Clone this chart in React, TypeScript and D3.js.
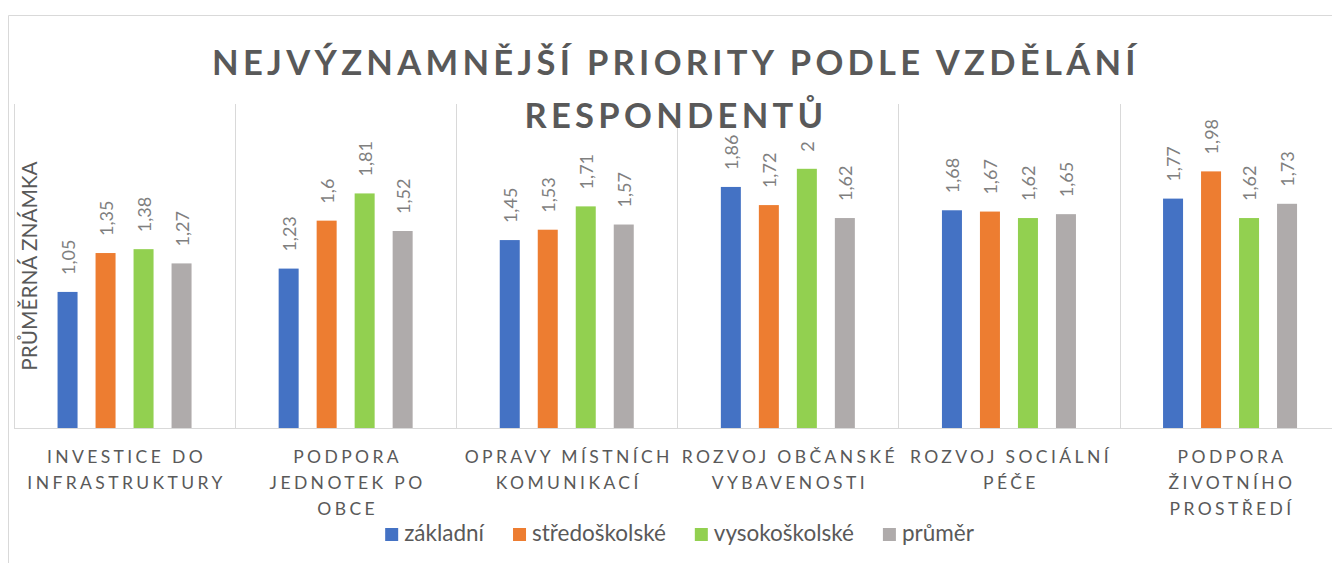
import React, { useRef, useEffect } from "react";
import * as d3 from "d3";

// category tick labels, already broken into lines as in the original
const categories = [
  ["INVESTICE DO", "INFRASTRUKTURY"],
  ["PODPORA", "JEDNOTEK PO", "OBCE"],
  ["OPRAVY MÍSTNÍCH", "KOMUNIKACÍ"],
  ["ROZVOJ OBČANSKÉ", "VYBAVENOSTI"],
  ["ROZVOJ SOCIÁLNÍ", "PÉČE"],
  ["PODPORA", "ŽIVOTNÍHO", "PROSTŘEDÍ"],
];

const seriesNames = ["základní", "středoškolské", "vysokoškolské", "průměr"];
const seriesColors = ["#4472C4", "#ED7D31", "#92D050", "#AFABAB"];

const zakladni = [1.05, 1.23, 1.45, 1.86, 1.68, 1.77];
const stredoskolske = [1.35, 1.6, 1.53, 1.72, 1.67, 1.98];
const vysokoskolske = [1.38, 1.81, 1.71, 2, 1.62, 1.62];
const prumer = [1.27, 1.52, 1.57, 1.62, 1.65, 1.73];

const titleLines = ["NEJVÝZNAMNĚJŠÍ PRIORITY PODLE VZDĚLÁNÍ", "RESPONDENTŮ"];
const yTitle = "PRŮMĚRNÁ ZNÁMKA";

const App = () => {
  const chartRef = useRef<HTMLDivElement>(null);

  useEffect(() => {
    const width = 1332;
    const height = 563;
    const font = "Lato, 'Open Sans', sans-serif";
    const series = [zakladni, stredoskolske, vysokoskolske, prumer];

    const root = d3.select(chartRef.current);
    root.selectAll("*").remove();

    const svg = root
      .append("svg")
      .attr("width", width)
      .attr("height", height)
      .style("position", "absolute")
      .style("left", 0)
      .style("top", 0)
      .style("font-family", font);

    svg.append("rect").attr("width", width).attr("height", height).attr("fill", "#fff");

    // chart border (continues past the photo edge)
    svg
      .append("path")
      .attr("d", `M8.5,${height} V15.5 H${width}`)
      .attr("fill", "none")
      .attr("stroke", "#d9d9d9");

    const plot = { left: 14, top: 104, bottom: 428, catWidth: 221.1 };

    const x = d3
      .scaleBand()
      .domain(categories.map((d, i) => String(i)))
      .range([plot.left, plot.left + plot.catWidth * categories.length]);

    const y = d3.scaleLinear().domain([0, 2.5]).range([plot.bottom, plot.top]);

    // bars 20px wide on a 38px step inside each category
    const step = 38;
    const padIn = 18 / step;
    const padOut = (x.bandwidth() / step - seriesNames.length + padIn) / 2;
    const xInner = d3
      .scaleBand()
      .domain(seriesNames)
      .range([0, x.bandwidth()])
      .paddingInner(padIn)
      .paddingOuter(padOut);

    // vertical separators between categories
    svg
      .append("g")
      .selectAll("line")
      .data(d3.range(categories.length + 1))
      .enter()
      .append("line")
      .attr("x1", (d) => Math.round(plot.left + d * plot.catWidth) + 0.5)
      .attr("x2", (d) => Math.round(plot.left + d * plot.catWidth) + 0.5)
      .attr("y1", plot.top)
      .attr("y2", plot.bottom)
      .attr("stroke", "#d9d9d9");

    // bars
    const groups = svg
      .append("g")
      .selectAll("g")
      .data(categories)
      .enter()
      .append("g")
      .attr("transform", (d, i) => `translate(${x(String(i))},0)`);

    groups
      .selectAll("rect")
      .data((d, i) => series.map((s, j) => ({ name: seriesNames[j], value: s[i], color: seriesColors[j] })))
      .enter()
      .append("rect")
      .attr("x", (d) => xInner(d.name))
      .attr("y", (d) => y(d.value))
      .attr("width", xInner.bandwidth())
      .attr("height", (d) => plot.bottom - y(d.value))
      .attr("fill", (d) => d.color);

    // data labels, rotated
    groups
      .selectAll("text")
      .data((d, i) => series.map((s, j) => ({ name: seriesNames[j], value: s[i] })))
      .enter()
      .append("text")
      .attr(
        "transform",
        (d) => `translate(${xInner(d.name) + xInner.bandwidth() / 2 + 1},${y(d.value) - 17}) rotate(-90)`
      )
      .attr("dy", "0.35em")
      .attr("font-size", 18)
      .attr("fill", "#7f7f7f")
      .text((d) => String(d.value).replace(".", ","));

    // x axis line
    svg
      .append("line")
      .attr("x1", plot.left)
      .attr("x2", width)
      .attr("y1", plot.bottom + 0.5)
      .attr("y2", plot.bottom + 0.5)
      .attr("stroke", "#d9d9d9");

    // category labels
    const cats = svg
      .append("g")
      .selectAll("text")
      .data(categories)
      .enter()
      .append("text")
      .attr("text-anchor", "middle")
      .attr("font-size", 17.5)
      .attr("letter-spacing", 3.4)
      .attr("fill", "#595959");

    cats
      .selectAll("tspan")
      .data((d, i) => d.map((line) => ({ line, i })))
      .enter()
      .append("tspan")
      .attr("x", (d) => x(String(d.i)) + x.bandwidth() / 2 + 2)
      .attr("y", (d, k) => 463 + k * 26)
      .text((d) => d.line);

    // title
    svg
      .append("g")
      .selectAll("text")
      .data(titleLines)
      .enter()
      .append("text")
      .attr("x", 676)
      .attr("y", (d, i) => 75 + i * 53)
      .attr("text-anchor", "middle")
      .attr("font-size", 34.5)
      .attr("font-weight", "bold")
      .attr("letter-spacing", 4.3)
      .attr("fill", "#595959")
      .text((d) => d);

    // y axis title
    svg
      .append("text")
      .attr("transform", "translate(37,266) rotate(-90)")
      .attr("text-anchor", "middle")
      .attr("font-size", 20.8)
      .attr("fill", "#595959")
      .text(yTitle);

    // legend, centred, item widths measured from the text
    const legend = svg.append("g");
    const items = legend
      .selectAll("g")
      .data(seriesNames)
      .enter()
      .append("g");
    items
      .append("rect")
      .attr("y", 528)
      .attr("width", 13)
      .attr("height", 13)
      .attr("fill", (d, i) => seriesColors[i]);
    items
      .append("text")
      .attr("x", 19)
      .attr("y", 541)
      .attr("font-size", 22.5)
      .attr("fill", "#595959")
      .text((d) => d);

    const widths: number[] = [];
    items.select("text").each(function () {
      widths.push(19 + (this as SVGTextElement).getComputedTextLength());
    });
    const gap = 29;
    const total = d3.sum(widths) + gap * (widths.length - 1);
    let cx = 679.5 - total / 2;
    items.attr("transform", (d, i) => {
      const t = `translate(${cx},0)`;
      cx += widths[i] + gap;
      return t;
    });
  }, []);

  return <div ref={chartRef}></div>;
};

export default App;
